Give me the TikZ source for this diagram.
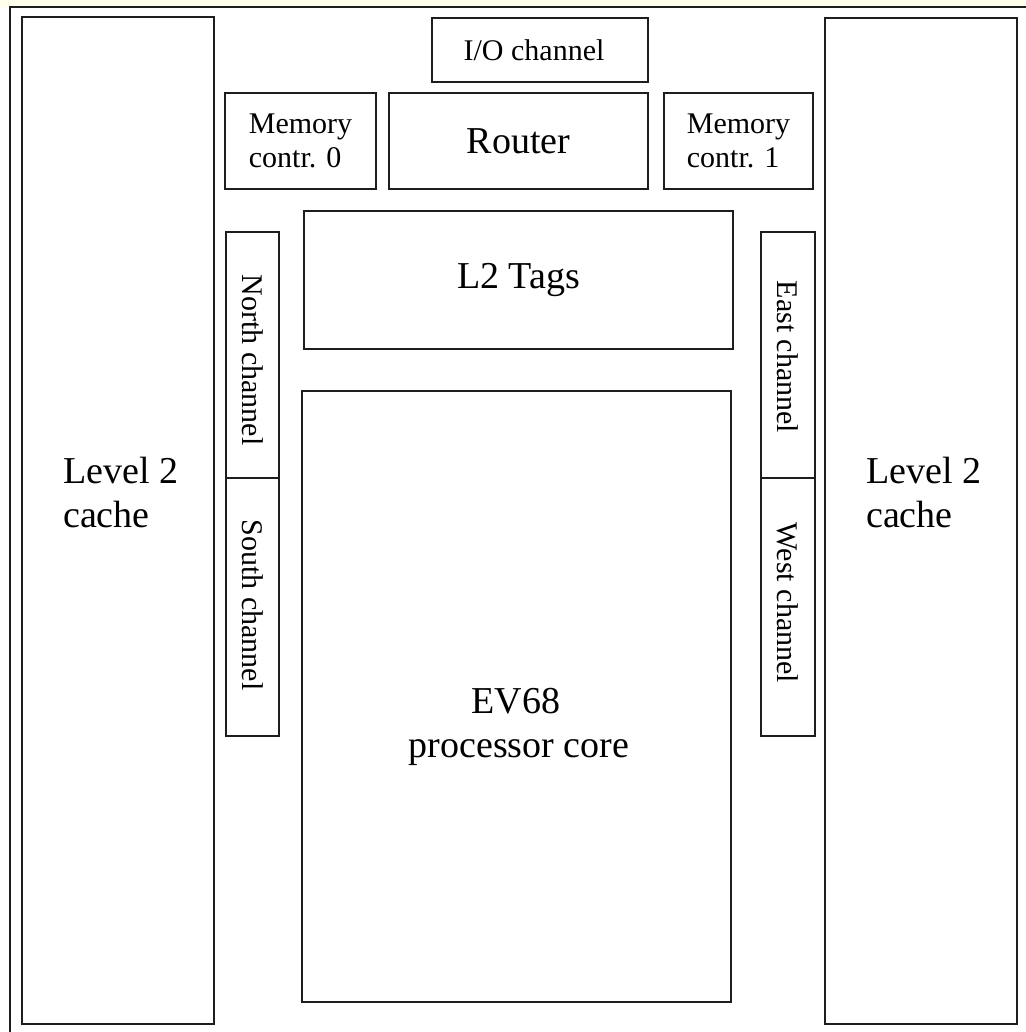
\documentclass[tikz,border=0pt]{standalone}
\usepackage{fontspec}
\setmainfont{Liberation Serif}
\definecolor{cream}{RGB}{255,255,236}
\definecolor{ink}{RGB}{30,30,30}
\begin{document}
\begin{tikzpicture}[x=1pt,y=-1pt,
  blk/.style={draw=ink, line width=1.8pt, fill=white, inner sep=0pt, outer sep=0pt},
  big/.style={font=\fontsize{38}{44}\selectfont, text=black, inner sep=0pt},
  small/.style={font=\fontsize{30}{34}\selectfont, text=black, inner sep=0pt},
]
\useasboundingbox (0,0) rectangle (1025,1032);
\fill[white] (0,0) rectangle (1025,1032);
\fill[cream] (0,0) rectangle (1025,7);
\draw[ink, line width=1.8pt] (10,1040) -- (10,7) -- (1035,7);

% Level 2 caches
\node[blk, minimum width=192pt, minimum height=1007pt] (cacheL) at (118,520.5) {};
\node[blk, minimum width=192pt, minimum height=1006pt] (cacheR) at (921,521) {};
\node[big, anchor=base west] (cacheLa) at (63,483) {Level 2};
\node[big, anchor=base west] (cacheLb) at (63,527) {cache};
\node[big, anchor=base west] (cacheRa) at (866,483) {Level 2};
\node[big, anchor=base west] (cacheRb) at (866,527) {cache};

% top row
\node[blk, minimum width=216pt, minimum height=64pt] (io) at (540,50) {};
\node[small] (iot) at (534,50) {I/O channel};
\node[blk, minimum width=151pt, minimum height=96pt, small, align=left] (mem0) at (300.5,141) {Memory\\contr. 0};
\node[blk, minimum width=259pt, minimum height=96pt, big] (router) at (518.5,141) {Router};
\node[blk, minimum width=149pt, minimum height=96pt, small, align=left] (mem1) at (738.5,141) {Memory\\contr. 1};

% L2 tags
\node[blk, minimum width=429pt, minimum height=138pt, big] (tags) at (518.5,280) {L2 Tags};

% channels
\node[blk, minimum width=53pt, minimum height=246pt] (north) at (252.5,355) {};
\node[blk, minimum width=53pt, minimum height=258pt] (south) at (252.5,607) {};
\node[blk, minimum width=54pt, minimum height=246pt] (east) at (788,355) {};
\node[blk, minimum width=54pt, minimum height=258pt] (west) at (788,607) {};
\node[small, rotate=-90] (northt) at (252.5,360) {North channel};
\node[small, rotate=-90] (southt) at (252.5,605) {South channel};
\node[small, rotate=-90] (eastt) at (788,357) {East channel};
\node[small, rotate=-90] (westt) at (788,603) {West channel};

% core
\node[blk, minimum width=429pt, minimum height=611pt] (core) at (516.5,696.5) {};
\node[big, anchor=base] (corea) at (516,713) {EV68};
\node[big, anchor=base] (coreb) at (519,757) {processor core};
\end{tikzpicture}
\end{document}
